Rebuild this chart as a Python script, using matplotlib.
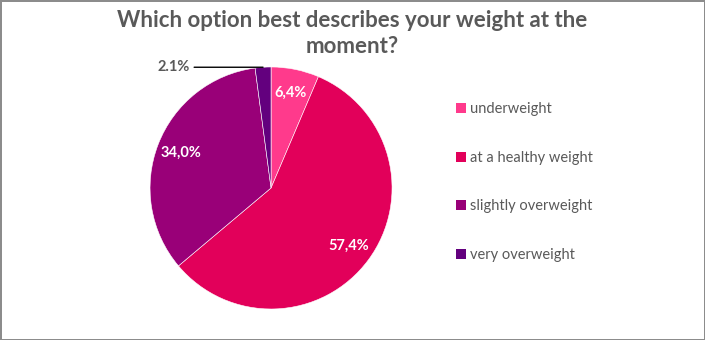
import matplotlib.pyplot as plt
import numpy as np
from matplotlib.patches import Patch

plt.rcParams['font.family'] = ['Lato', 'DejaVu Sans']

# 数据
categories = ['underweight', 'at a healthy weight', 'slightly overweight', 'very overweight']
values = [6.4, 57.4, 34.0, 2.1]
labels = ['6,4%', '57,4%', '34,0%', '2.1%']
colors = ['#FF3A8C', '#E2005A', '#990078', '#63007E']
grey = '#595959'

fig = plt.figure(figsize=(7.05, 3.4), dpi=100)
fig.patch.set_edgecolor('#8c8c8c')
fig.patch.set_linewidth(2)

ax = fig.add_axes([0.2128, 0.0912, 0.3433, 0.7118])
wedges, _ = ax.pie(values, colors=colors, startangle=90, counterclock=False,
                   wedgeprops=dict(edgecolor='white', linewidth=0.4))
ax.set_xlim(-1, 1)
ax.set_ylim(-1, 1)
ax.set_aspect('equal')

# 数据标签
for i, w in enumerate(wedges):
    ang = np.deg2rad((w.theta1 + w.theta2) / 2)
    if i < 3:
        ax.text(0.8 * np.cos(ang), 0.8 * np.sin(ang), labels[i], color='white',
                fontsize=10.5, fontweight='bold', ha='center', va='center')
    else:
        x, y = np.cos(ang), np.sin(ang)
        ax.annotate(labels[i], xy=(x, y), xytext=(-0.67, y), color=grey,
                    fontsize=10.5, fontweight='bold', ha='right', va='center',
                    arrowprops=dict(arrowstyle='-', color='black', lw=1,
                                    shrinkA=1, shrinkB=0))

fig.text(0.5, 0.97, 'Which option best describes your weight at the\nmoment?',
         ha='center', va='top', fontsize=16, fontweight='bold', color=grey,
         linespacing=1.3)

handles = [Patch(facecolor=c) for c in colors]
leg = fig.legend(handles, categories, loc='upper left', bbox_to_anchor=(0.638, 0.717),
                 frameon=False, fontsize=10.5, labelcolor=grey, handlelength=0.7,
                 handleheight=0.7, handletextpad=0.3, labelspacing=2.38,
                 borderaxespad=0)

fig.savefig('out.png', dpi=100)
